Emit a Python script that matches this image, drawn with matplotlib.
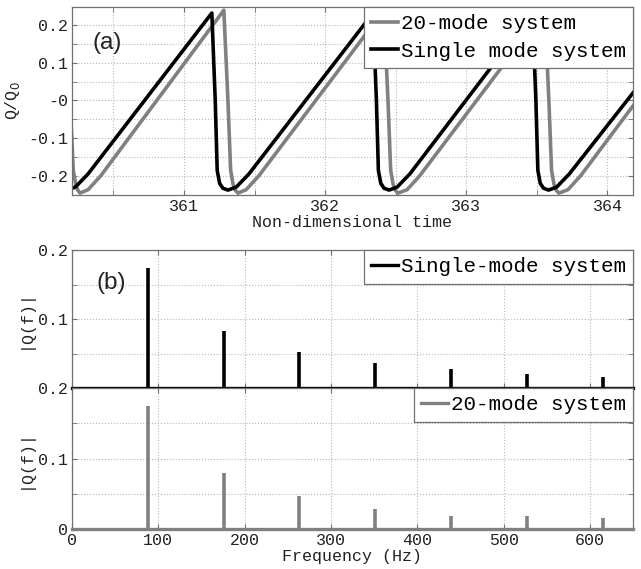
import matplotlib as mpl
import matplotlib.pyplot as plt
from matplotlib.ticker import FixedLocator, NullFormatter

INK = "#222222"
FRAME = "#707070"
GRIDC = "#b8b8b8"
GRAY = "#808080"
BLACK = "#000000"
MONO = "Liberation Mono"

# (a) time traces, key points
t_single = [360.17, 360.23, 360.32,
            361.197, 361.221, 361.235, 361.252, 361.275, 361.311, 361.37, 361.46,
            362.339, 362.363, 362.377, 362.394, 362.417, 362.453, 362.51, 362.60,
            363.469, 363.493, 363.507, 363.524, 363.547, 363.583, 363.64, 363.73,
            364.20]
q_single = [-0.238, -0.230, -0.195,
            0.232, 0.0, -0.186, -0.220, -0.233, -0.238, -0.230, -0.195,
            0.232, 0.0, -0.186, -0.220, -0.233, -0.238, -0.230, -0.195,
            0.232, 0.0, -0.186, -0.220, -0.233, -0.238, -0.230, -0.195,
            0.029]

t_20mode = [360.19, 360.205, 360.215, 360.232, 360.247, 360.262, 360.32, 360.41,
            361.282, 361.311, 361.330, 361.347, 361.362, 361.382, 361.44, 361.53,
            362.416, 362.445, 362.464, 362.481, 362.496, 362.516, 362.58, 362.67,
            363.556, 363.585, 363.604, 363.621, 363.636, 363.656, 363.72, 363.81,
            364.20]
q_20mode = [0.0, -0.10, -0.185, -0.222, -0.238, -0.246, -0.237, -0.200,
            0.2395, 0.0, -0.185, -0.222, -0.238, -0.246, -0.237, -0.200,
            0.2395, 0.0, -0.185, -0.222, -0.238, -0.246, -0.237, -0.200,
            0.2395, 0.0, -0.185, -0.222, -0.238, -0.246, -0.237, -0.200,
            -0.005]

# (b) spectra: harmonic frequencies (Hz) and peak amplitudes
freqs = [87.8, 175.6, 263.5, 351.4, 439.3, 527.1, 615.0]
amp_single = [0.174, 0.082, 0.052, 0.036, 0.027, 0.021, 0.016]
amp_20mode = [0.175, 0.079, 0.047, 0.029, 0.019, 0.018, 0.016]

time_ticks = [361, 362, 363, 364]
time_minor = [360.5, 361.5, 362.5, 363.5]
q_ticks = [-0.2, -0.1, 0.0, 0.1, 0.2]
q_ticklabels = ["-0.2", "-0.1", "-0", "0.1", "0.2"]
q_minor = [-0.15, -0.05, 0.05, 0.15]
f_ticks = [0, 100, 200, 300, 400, 500, 600]
amp_ticks = [0.0, 0.1, 0.2]
amp_minor = [0.05, 0.15]


def apply_style() -> None:
    mpl.rcParams.update(
        {
            "font.family": MONO,
            "font.size": 12,
            "axes.edgecolor": FRAME,
            "axes.linewidth": 0.9,
            "axes.labelcolor": INK,
            "xtick.color": FRAME,
            "ytick.color": FRAME,
            "xtick.labelcolor": INK,
            "ytick.labelcolor": INK,
            "xtick.direction": "in",
            "ytick.direction": "in",
            "xtick.top": True,
            "ytick.right": True,
            "xtick.major.size": 3.5,
            "ytick.major.size": 3.5,
            "xtick.minor.size": 3.5,
            "ytick.minor.size": 3.5,
            "xtick.major.pad": 3,
            "ytick.major.pad": 3,
        }
    )


def _grid(ax) -> None:
    ax.grid(True, which="both", linestyle=":", color=GRIDC, linewidth=0.8)
    ax.set_axisbelow(True)


def _legend(ax, handles, labels):
    leg = ax.legend(
        handles, labels,
        loc="upper right", bbox_to_anchor=(1.0, 1.0),
        borderaxespad=0.0, borderpad=0.35, handlelength=1.3, handletextpad=0.12,
        labelspacing=0.4, fancybox=False, framealpha=1.0, edgecolor=FRAME,
        prop={"family": MONO, "size": 15},
    )
    leg.get_frame().set_linewidth(0.9)
    return leg


apply_style()
fig = plt.figure(figsize=(6.41, 5.69), dpi=100)
ax_t = fig.add_axes([0.1123, 0.6573, 0.8752, 0.3304])
ax_s = fig.add_axes([0.1123, 0.3181, 0.8752, 0.2425])
ax_m = fig.add_axes([0.1123, 0.0703, 0.8752, 0.2478])

# panel (a)
l20, = ax_t.plot(t_20mode, q_20mode, color=GRAY, lw=2.6, solid_joinstyle="round")
l1, = ax_t.plot(t_single, q_single, color=BLACK, lw=2.6, solid_joinstyle="round")
ax_t.set_xlim(360.206, 364.181)
ax_t.set_ylim(-0.251, 0.248)
ax_t.set_xticks(time_ticks)
ax_t.xaxis.set_minor_locator(FixedLocator(time_minor))
ax_t.set_yticks(q_ticks)
ax_t.set_yticklabels(q_ticklabels)
ax_t.yaxis.set_minor_locator(FixedLocator(q_minor))
ax_t.yaxis.set_minor_formatter(NullFormatter())
_grid(ax_t)
ax_t.set_xlabel("Non-dimensional time", labelpad=0.5)
ax_t.set_ylabel("Q/Q$_0$", labelpad=4)
ax_t.text(0.037, 0.81, "(a)", transform=ax_t.transAxes, ha="left", va="center",
          family="Liberation Sans", fontsize=17.5, color=INK)
_legend(ax_t, [l20, l1], ["20-mode system", "Single mode system"])

# panel (b), spectra
for ax, amps, color, label in [
    (ax_s, amp_single, BLACK, "Single-mode system"),
    (ax_m, amp_20mode, GRAY, "20-mode system"),
]:
    ax.vlines(freqs, 0, amps, color=color, lw=2.6, zorder=3)
    line, = ax.plot([0, 650], [0, 0], color=color, lw=2.4, zorder=3, clip_on=False)
    ax.set_xlim(0, 650)
    ax.set_ylim(0, 0.2)
    ax.set_xticks(f_ticks)
    ax.set_yticks(amp_ticks)
    ax.yaxis.set_minor_locator(FixedLocator(amp_minor))
    ax.yaxis.set_minor_formatter(NullFormatter())
    _grid(ax)
    ax.set_ylabel("|Q(f)|", labelpad=4)
    _legend(ax, [line], [label])

ax_s.set_yticklabels(["", "0.1", "0.2"])
ax_m.set_yticklabels(["0", "0.1", "0.2"])
ax_s.tick_params(axis="x", labelbottom=False)
ax_m.set_xlabel("Frequency (Hz)", labelpad=0.5)
ax_s.text(0.043, 0.76, "(b)", transform=ax_s.transAxes, ha="left", va="center",
          family="Liberation Sans", fontsize=17.5, color=INK)

fig.savefig("out.png", dpi=100)
